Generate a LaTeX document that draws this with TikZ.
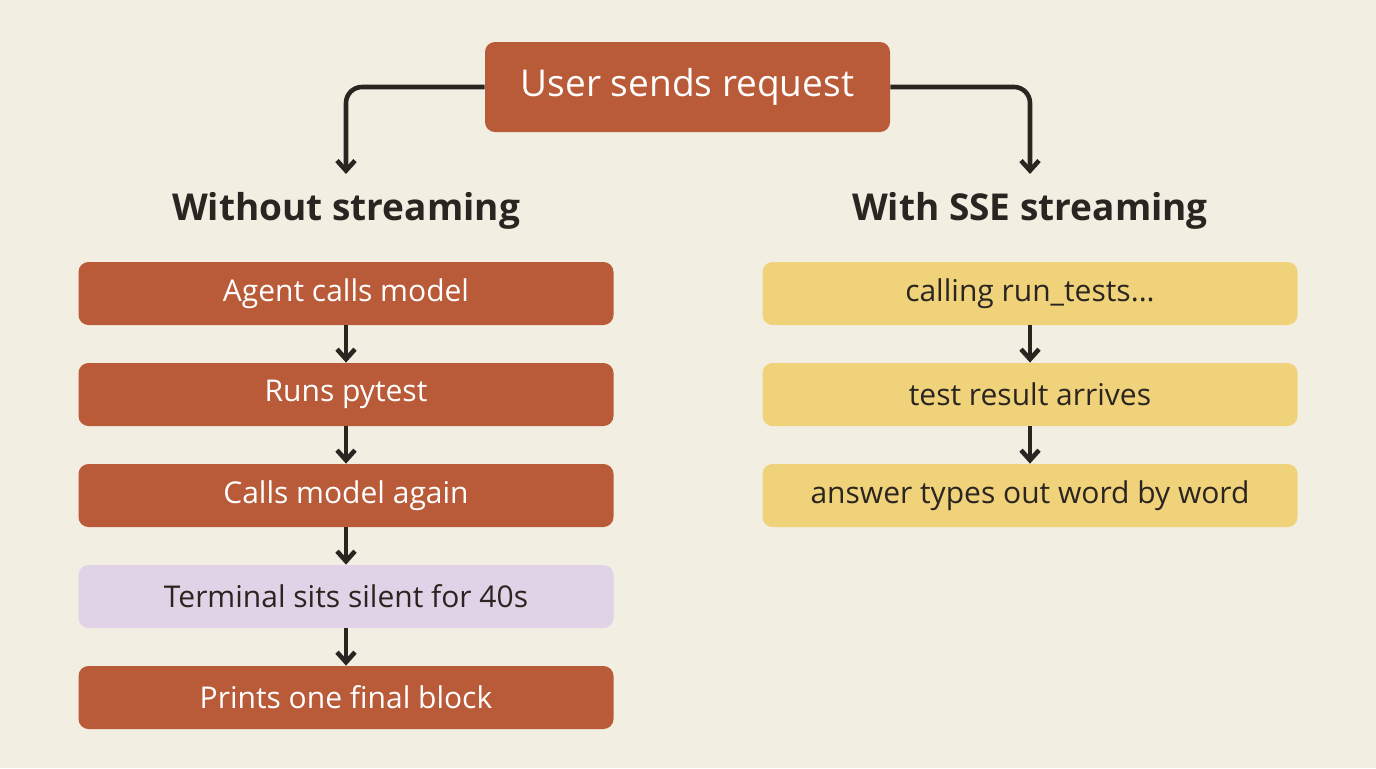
\documentclass[tikz,border=0pt]{standalone}
\usepackage{fontspec}
\setmainfont{Open Sans}
\usetikzlibrary{arrows.meta}
\definecolor{bg}{HTML}{F3EEE2}
\definecolor{org}{HTML}{B95A38}
\definecolor{yel}{HTML}{F0D27A}
\definecolor{pur}{HTML}{E0D3E8}
\definecolor{ink}{HTML}{2A2520}
\begin{document}
\begin{tikzpicture}[x=0.5pt,y=-0.5pt,
 box/.style={rounded corners=5pt,minimum width=267.5pt,minimum height=31.5pt,inner sep=0pt,font=\fontsize{15}{18}\selectfont},
 ob/.style={box,fill=org,text=white},
 yb/.style={box,fill=yel,text=ink},
 pb/.style={box,fill=pur,text=ink},
 hd/.style={font=\fontsize{18.5}{22}\selectfont\bfseries,text=ink},
 arr/.style={draw=ink,line width=2.3pt,-{Straight Barb[length=5pt,width=9pt,line width=2.3pt]},rounded corners=8pt}]
\fill[bg] (0,0) rectangle (1376,768);
\node[rounded corners=5pt,fill=org,text=white,minimum width=202.5pt,minimum height=45pt,inner sep=0pt,font=\fontsize{18.5}{22}\selectfont] (top) at (687.5,87) {User sends request};
\node[hd] (hl) at (346,211) {Without streaming};
\node[hd] (hr) at (1030,211) {With SSE streaming};
\coordinate (al) at (346,174);
\coordinate (ar) at (1030,174);
\draw[arr] (top.west) -- (346,87) -- (al);
\draw[arr] (top.east) -- (1030,87) -- (ar);
\node[ob] (l1) at (346,293.5) {Agent calls model};
\node[ob] (l2) at (346,394.5) {Runs pytest};
\node[ob] (l3) at (346,495.5) {Calls model again};
\node[pb] (l4) at (346,596.5) {Terminal sits silent for 40s};
\node[ob] (l5) at (346,697.5) {Prints one final block};
\node[yb] (r1) at (1030,293.5) {calling run\_tests...};
\node[yb] (r2) at (1030,394.5) {test result arrives};
\node[yb] (r3) at (1030,495.5) {answer types out word by word};
\foreach \a/\b in {l1/l2,l2/l3,l3/l4,l4/l5,r1/r2,r2/r3}
 \draw[arr] (\a.south) -- (\b.north);
\end{tikzpicture}
\end{document}
